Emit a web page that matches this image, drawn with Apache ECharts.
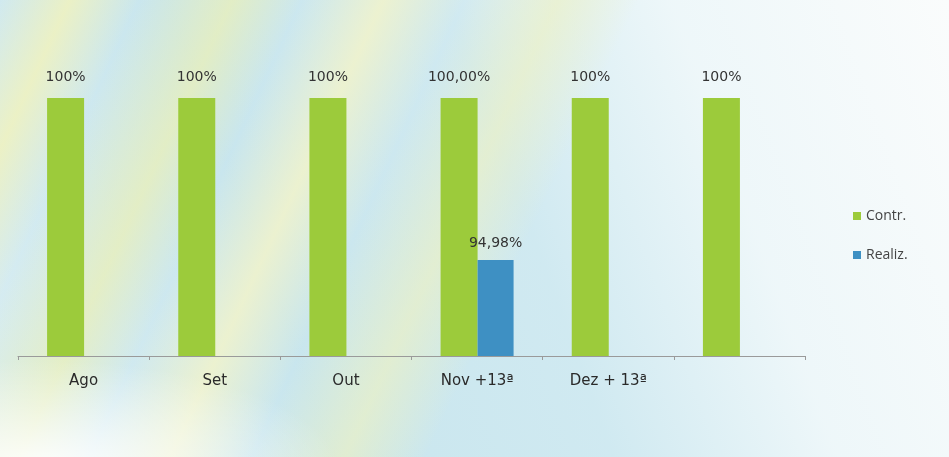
<!DOCTYPE html>
<html><head><meta charset="utf-8">
<script src="https://cdn.jsdelivr.net/npm/echarts@6/dist/echarts.min.js"></script>
<style>
html,body{margin:0;padding:0;}
#c{width:949px;height:457px;
background:
 radial-gradient(ellipse 300px 110px at 40px 470px, rgba(255,255,255,0.95), rgba(255,255,255,0) 100%),
 linear-gradient(115deg, rgba(255,255,255,0) 0%, rgba(240,242,190,0.85) 6%, rgba(255,255,255,0) 12%, rgba(236,240,180,0.7) 20%, rgba(255,255,255,0) 26%, rgba(244,244,200,0.8) 33%, rgba(255,255,255,0) 40%, rgba(240,242,190,0.6) 48%, rgba(255,255,255,0) 55%),
 linear-gradient(70deg, rgba(190,225,235,0.0) 0%, rgba(190,225,235,0.6) 30%, rgba(200,230,240,0.5) 55%, rgba(240,248,250,0.9) 75%, rgba(250,252,252,1) 100%),
 #d8edf2;}
</style>
</head><body>
<div id="c"></div>
<script>
const categories = ['Ago', 'Set', 'Out', 'Nov +13ª', 'Dez + 13ª', ''];
const contrValues = [100, 100, 100, 100, 100, 100];
const contrLabels = ['100%', '100%', '100%', '100,00%', '100%', '100%'];
const realizValues = [null, null, null, 94.98, null, null];
const realizLabels = ['', '', '', '94,98%', '', ''];
const seriesNames = ['Contr.', 'Realiz.'];

const chart = echarts.init(document.getElementById('c'), null, {renderer: 'canvas'});
const labelFont = {fontFamily: 'DejaVu Sans', fontSize: 14, color: '#333'};
chart.setOption({
  backgroundColor: 'transparent',
  animation: false,
  grid: {left: 18, right: 144, top: 98, bottom: 101},
  legend: {
    orient: 'vertical', left: 848, top: 204, itemWidth: 8, itemHeight: 8,
    itemGap: 25, icon: 'rect',
    textStyle: {fontFamily: 'Open Sans', fontSize: 14, color: '#444'},
    data: seriesNames
  },
  xAxis: {
    type: 'category', data: categories,
    axisLine: {lineStyle: {color: '#9a9a9a', width: 1}},
    axisTick: {show: true, length: 4, lineStyle: {color: '#9a9a9a'}},
    axisLabel: {fontFamily: 'DejaVu Sans', fontSize: 15, color: '#2a2a2a', margin: 18}
  },
  yAxis: {type: 'value', min: 92, max: 100, show: false},
  series: [
    {
      name: seriesNames[0], type: 'bar', data: contrValues, barWidth: 37, barGap: '0%',
      itemStyle: {color: '#9ccb3b'},
      label: {show: true, position: 'top', distance: 14, ...labelFont,
        formatter: p => contrLabels[p.dataIndex]}
    },
    {
      name: seriesNames[1], type: 'bar', data: realizValues, barWidth: 36,
      itemStyle: {color: '#3e90c3'},
      label: {show: true, position: 'top', distance: 10, ...labelFont,
        formatter: p => realizLabels[p.dataIndex]}
    }
  ]
});
</script>
</body></html>
